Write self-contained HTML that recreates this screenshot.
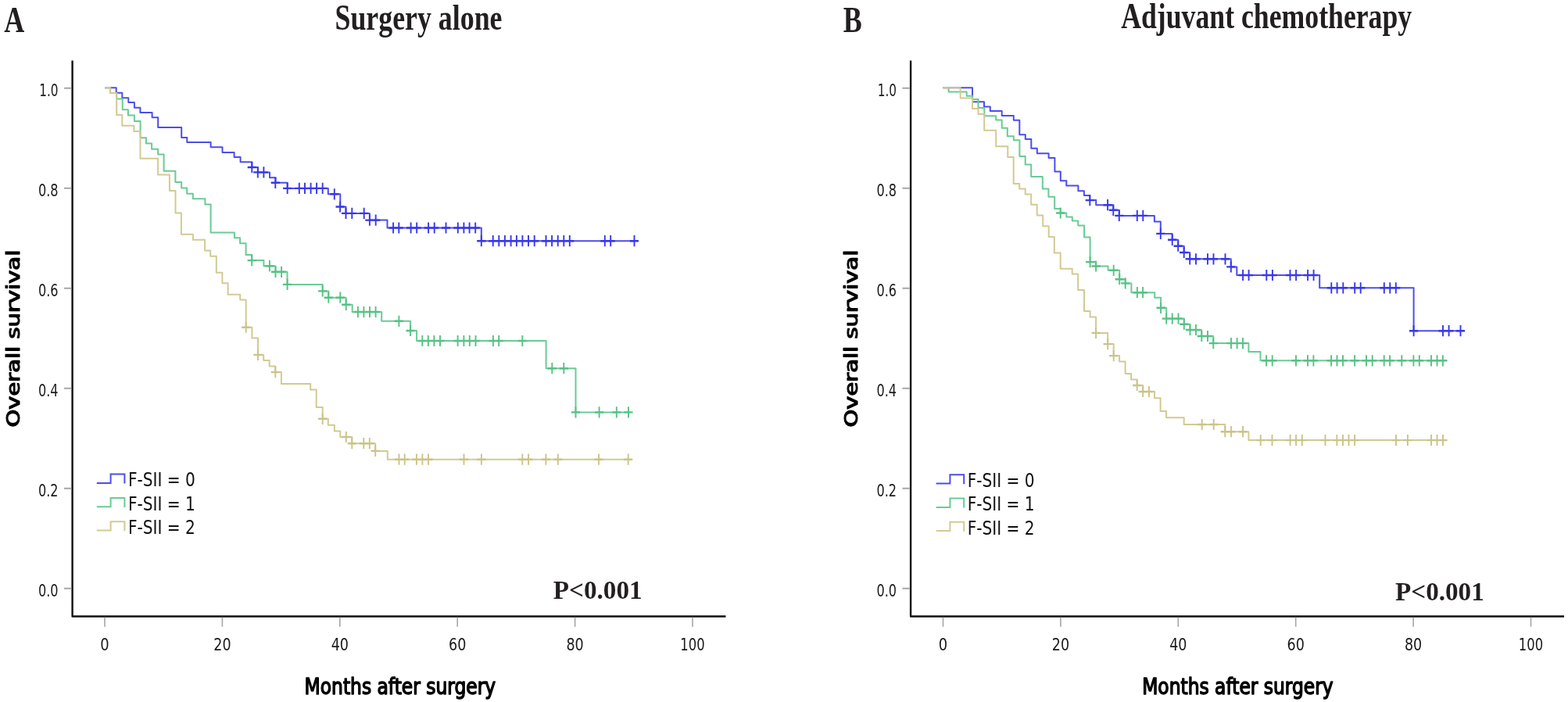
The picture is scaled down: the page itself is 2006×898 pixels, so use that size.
<!DOCTYPE html>
<html><head><meta charset="utf-8"><title>Kaplan-Meier curves</title><style>
html,body{margin:0;padding:0;background:#fff;}
body{width:2006px;height:898px;overflow:hidden;}
svg{display:block;}
.tk{font-family:'DejaVu Sans Condensed','DejaVu Sans','Liberation Sans',sans-serif;font-stretch:condensed;font-size:21px;fill:#1a1a1a;}
.tkx{font-size:20.8px;}
.lg{font-family:'DejaVu Sans Condensed','DejaVu Sans','Liberation Sans',sans-serif;font-stretch:condensed;font-size:24px;fill:#111;}
.ax{font-family:'DejaVu Sans Condensed','DejaVu Sans','Liberation Sans',sans-serif;font-stretch:condensed;font-weight:bold;font-size:30px;fill:#000;}
.ax2{font-family:'DejaVu Sans Condensed','DejaVu Sans','Liberation Sans',sans-serif;font-stretch:condensed;font-weight:normal;font-size:28.6px;fill:#000;stroke:#000;stroke-width:1.4px;stroke-linejoin:round;}
.tt{font-family:'Liberation Serif','DejaVu Serif',serif;font-weight:bold;font-size:47px;fill:#231f20;}
.pv{font-family:'Liberation Serif','DejaVu Serif',serif;font-weight:bold;font-size:34px;fill:#231f20;}
.lt{font-family:'Liberation Serif','DejaVu Serif',serif;font-weight:bold;font-size:46px;fill:#231f20;}
</style></head><body>
<svg width="2006" height="898" viewBox="0 0 2006 898">
<rect width="2006" height="898" fill="#fff"/>
<text x="5.2" y="40.6" class="lt" textLength="26" lengthAdjust="spacingAndGlyphs">A</text>
<text x="1078.8" y="40.6" class="lt" textLength="24" lengthAdjust="spacingAndGlyphs">B</text>
<path d="M92.6,77.5V788.5H928.5" fill="none" stroke="#111" stroke-width="2.4" stroke-linejoin="round"/>
<path d="M82,112.7H91.3M82,240.7H91.3M82,368.7H91.3M82,496.7H91.3M82,624.8H91.3M82,752.8H91.3" stroke="#a6a6a6" stroke-width="2.1" fill="none"/>
<path d="M134,789.8V801.8M284.4,789.8V801.8M434.8,789.8V801.8M585.2,789.8V801.8M735.6,789.8V801.8M886,789.8V801.8" stroke="#a6a6a6" stroke-width="1.6" fill="none"/>
<text x="74.5" y="122.5" class="tk" text-anchor="end" textLength="24.3" lengthAdjust="spacingAndGlyphs">1.0</text>
<text x="74.5" y="250.5" class="tk" text-anchor="end" textLength="25.6" lengthAdjust="spacingAndGlyphs">0.8</text>
<text x="74.5" y="378.5" class="tk" text-anchor="end" textLength="25.6" lengthAdjust="spacingAndGlyphs">0.6</text>
<text x="74.5" y="506.5" class="tk" text-anchor="end" textLength="25.6" lengthAdjust="spacingAndGlyphs">0.4</text>
<text x="74.5" y="634.6" class="tk" text-anchor="end" textLength="25.6" lengthAdjust="spacingAndGlyphs">0.2</text>
<text x="74.5" y="762.6" class="tk" text-anchor="end" textLength="25.6" lengthAdjust="spacingAndGlyphs">0.0</text>
<text x="134" y="831.6" class="tk tkx" text-anchor="middle" textLength="11.4" lengthAdjust="spacingAndGlyphs">0</text>
<text x="284.4" y="831.6" class="tk tkx" text-anchor="middle" textLength="22.3" lengthAdjust="spacingAndGlyphs">20</text>
<text x="434.8" y="831.6" class="tk tkx" text-anchor="middle" textLength="22.3" lengthAdjust="spacingAndGlyphs">40</text>
<text x="585.2" y="831.6" class="tk tkx" text-anchor="middle" textLength="22.3" lengthAdjust="spacingAndGlyphs">60</text>
<text x="735.6" y="831.6" class="tk tkx" text-anchor="middle" textLength="22.3" lengthAdjust="spacingAndGlyphs">80</text>
<text x="886" y="831.6" class="tk tkx" text-anchor="middle" textLength="31.3" lengthAdjust="spacingAndGlyphs">100</text>
<text x="389.6" y="887.6" class="ax2" textLength="244.5" lengthAdjust="spacingAndGlyphs">Months after surgery</text>
<text class="ax2" textLength="226.8" lengthAdjust="spacingAndGlyphs" transform="translate(25.3,546.6) rotate(-90) scale(1,0.78)">Overall survival</text>
<path d="M123.8,617.9H141.6V606.6H159.4V618.6" fill="none" stroke="#4d4dec" stroke-width="2"/>
<text x="163.9" y="622.4" class="lg" textLength="86" lengthAdjust="spacingAndGlyphs">F-SII = 0</text>
<path d="M123.8,648.3H141.6V637H159.4V649" fill="none" stroke="#6acb95" stroke-width="2"/>
<text x="163.9" y="652.8" class="lg" textLength="86" lengthAdjust="spacingAndGlyphs">F-SII = 1</text>
<path d="M123.8,678.5H141.6V667.2H159.4V679.2" fill="none" stroke="#d2ca93" stroke-width="2"/>
<text x="163.9" y="683" class="lg" textLength="86" lengthAdjust="spacingAndGlyphs">F-SII = 2</text>
<text x="428.5" y="38" class="tt" style="font-size:47px" textLength="214" lengthAdjust="spacingAndGlyphs">Surgery alone</text>
<text x="707.8" y="766.3" class="pv" textLength="113.8" lengthAdjust="spacingAndGlyphs">P&lt;0.001</text>
<path d="M1165.1,77.5V788.5H2001" fill="none" stroke="#111" stroke-width="2.4" stroke-linejoin="round"/>
<path d="M1154.5,112.7H1163.8M1154.5,240.7H1163.8M1154.5,368.7H1163.8M1154.5,496.7H1163.8M1154.5,624.8H1163.8M1154.5,752.8H1163.8" stroke="#a6a6a6" stroke-width="2.1" fill="none"/>
<path d="M1206.5,789.8V801.8M1356.9,789.8V801.8M1507.3,789.8V801.8M1657.7,789.8V801.8M1808.1,789.8V801.8M1958.5,789.8V801.8" stroke="#a6a6a6" stroke-width="1.6" fill="none"/>
<text x="1147" y="122.5" class="tk" text-anchor="end" textLength="24.3" lengthAdjust="spacingAndGlyphs">1.0</text>
<text x="1147" y="250.5" class="tk" text-anchor="end" textLength="25.6" lengthAdjust="spacingAndGlyphs">0.8</text>
<text x="1147" y="378.5" class="tk" text-anchor="end" textLength="25.6" lengthAdjust="spacingAndGlyphs">0.6</text>
<text x="1147" y="506.5" class="tk" text-anchor="end" textLength="25.6" lengthAdjust="spacingAndGlyphs">0.4</text>
<text x="1147" y="634.6" class="tk" text-anchor="end" textLength="25.6" lengthAdjust="spacingAndGlyphs">0.2</text>
<text x="1147" y="762.6" class="tk" text-anchor="end" textLength="25.6" lengthAdjust="spacingAndGlyphs">0.0</text>
<text x="1206.5" y="831.6" class="tk tkx" text-anchor="middle" textLength="11.4" lengthAdjust="spacingAndGlyphs">0</text>
<text x="1356.9" y="831.6" class="tk tkx" text-anchor="middle" textLength="22.3" lengthAdjust="spacingAndGlyphs">20</text>
<text x="1507.3" y="831.6" class="tk tkx" text-anchor="middle" textLength="22.3" lengthAdjust="spacingAndGlyphs">40</text>
<text x="1657.7" y="831.6" class="tk tkx" text-anchor="middle" textLength="22.3" lengthAdjust="spacingAndGlyphs">60</text>
<text x="1808.1" y="831.6" class="tk tkx" text-anchor="middle" textLength="22.3" lengthAdjust="spacingAndGlyphs">80</text>
<text x="1958.5" y="831.6" class="tk tkx" text-anchor="middle" textLength="31.3" lengthAdjust="spacingAndGlyphs">100</text>
<text x="1461.2" y="887.6" class="ax2" textLength="244.5" lengthAdjust="spacingAndGlyphs">Months after surgery</text>
<text class="ax2" textLength="226.8" lengthAdjust="spacingAndGlyphs" transform="translate(1097.4,546.6) rotate(-90) scale(1,0.78)">Overall survival</text>
<path d="M1197.6,618.5H1215.4V607.2H1233.2V619.2" fill="none" stroke="#4d4dec" stroke-width="2"/>
<text x="1237.7" y="623" class="lg" textLength="86" lengthAdjust="spacingAndGlyphs">F-SII = 0</text>
<path d="M1197.6,648.9H1215.4V637.6H1233.2V649.6" fill="none" stroke="#6acb95" stroke-width="2"/>
<text x="1237.7" y="653.4" class="lg" textLength="86" lengthAdjust="spacingAndGlyphs">F-SII = 1</text>
<path d="M1197.6,679.1H1215.4V667.8H1233.2V679.8" fill="none" stroke="#d2ca93" stroke-width="2"/>
<text x="1237.7" y="683.6" class="lg" textLength="86" lengthAdjust="spacingAndGlyphs">F-SII = 2</text>
<text x="1434.2" y="36.4" class="tt" style="font-size:45.5px" textLength="372" lengthAdjust="spacingAndGlyphs">Adjuvant chemotherapy</text>
<text x="1785" y="768" class="pv" textLength="113.8" lengthAdjust="spacingAndGlyphs">P&lt;0.001</text>
<g fill="none" stroke-width="2.0" stroke-linejoin="round" stroke-linecap="butt">
<path stroke="#4d4dec" d="M134,112.2H148.7V118.8H156.3V125.3H164.3V131.0H171.9V137.8H179.4V144.0H194.6V150.3H202.2V162.9H232.2V175.9H239.3V182.0H269.6V188.3H284.5V194.9H299.6V201.0H307.6V207.3H322.3V214.0H329.9V220.4H345.0V227.2H352.6V233.8H367.7V240.9H419.8V248.3H435.3V264.5H442.5V272.9H472.9V281.6H495.5V291.5H615.8V308.2H811.5"/>
<path stroke="#6acb95" d="M134,112.2H141.1V119.1H149.2V126.4H156.7V140.2H163.9V147.6H171.9V154.9H179.6V176.2H186.9V183.6H194.1V190.7H202.1V197.4H209.6V218.8H224.4V232.9H232.2V240.5H239.2V247.8H246.8V254.3H262.4V261.4H269.6V297.5H299.9V304.2H307.1V311.3H314.6V326.0H322.2V333.1H337.4V340.2H352.5V347.8H367.5V363.9H412.7V372.4H420.3V380.7H442.7V389.8H450.7V399.0H488.2V410.8H525.1V423.0H533.1V436.0H698.6V471.2H736.5V527.4H804.0"/>
<path stroke="#d2ca93" d="M134,112.2H141.1V119.1H149.2V146.9H156.3V160.7H171.4V167.9H179.5V202.8H202.1V223.6H216.9V244.1H224.5V272.6H231.9V299.7H246.9V306.8H262.1V320.6H269.2V327.8H276.8V348.7H284.4V362.3H291.6V376.8H307.2V383.5H314.7V418.7H322.4V432.5H330.0V453.9H337.2V461.0H344.7V468.6H352.3V476.1H359.9V490.9H397.2V498.6H404.7V521.1H412.7V535.8H419.8V543.8H427.9V551.4H435.3V559.0H450.3V567.2H480.2V576.9H495.8V587.7H803.7"/>
<path stroke="#4d4dec" d="M1206.5,112.2H1244.0V130.3H1259.0V136.5H1266.8V142.0H1281.7V148.0H1296.8V153.8H1304.3V172.2H1311.8V178.0H1319.3V189.7H1326.8V196.2H1341.6V202.0H1349.4V219.6H1356.8V231.3H1364.3V237.6H1379.4V244.3H1386.9V250.0H1394.3V256.1H1402.2V262.2H1424.3V268.8H1431.8V275.9H1476.9V283.4H1484.8V298.9H1499.7V306.8H1507.2V314.7H1514.7V323.0H1522.2V331.3H1574.8V341.4H1582.3V352.0H1688.2V368.3H1808.6V423.2H1868.5"/>
<path stroke="#6acb95" d="M1206.5,112.2H1213.6V117.5H1236.7V122.8H1244.3V127.0H1251.5V138.1H1259.3V148.3H1274.2V153.6H1281.7V163.8H1288.8V174.2H1296.8V179.3H1304.4V200.0H1311.7V210.5H1319.2V225.9H1333.8V241.4H1341.4V251.8H1349.2V267.1H1356.7V272.5H1364.3V277.4H1371.8V282.6H1379.3V288.4H1387.1V303.4H1394.6V335.1H1402.1V340.5H1417.6V345.8H1432.2V357.2H1439.7V362.4H1447.4V374.2H1477.2V380.7H1485.1V393.8H1492.2V407.6H1514.8V414.7H1522.5V422.0H1537.2V430.0H1552.3V439.1H1597.4V449.9H1612.5V461.3H1845.9"/>
<path stroke="#d2ca93" d="M1206.5,112.2H1228.7V125.6H1244.0V139.0H1251.5V146.0H1259.2V166.7H1274.2V187.2H1289.3V201.0H1296.7V235.1H1304.2V241.4H1311.7V248.5H1319.2V261.7H1326.7V275.5H1334.2V289.2H1341.7V303.0H1348.8V323.4H1356.7V343.8H1371.7V350.5H1379.2V370.9H1387.0V397.9H1394.6V405.5H1402.1V425.9H1417.2V440.1H1424.7V455.1H1432.1V462.4H1439.6V478.0H1447.1V485.5H1454.7V493.0H1462.2V501.0H1477.1V509.2H1484.6V525.9H1492.1V534.3H1514.7V543.0H1567.3V552.2H1597.4V563.1H1846.0"/>
</g>
<g fill="none">
<path stroke="#3838e8" stroke-width="2.4" d="M316.7,214h11.2M324.2,220.4h11.2M331.8,220.4h11.2M346.7,233.8h11.2M362.1,240.9h11.2M377.2,240.9h11.2M384.4,240.9h11.2M392,240.9h11.2M399.5,240.9h11.2M407.1,240.9h11.2M422.2,248.3h11.2M429.5,264.5h11.2M436.9,272.9h11.2M444.7,272.9h11.2M460.1,272.9h11.2M467.3,281.6h11.2M475.1,281.6h11.2M497.5,291.5h11.2M504.7,291.5h11.2M520,291.5h11.2M527.6,291.5h11.2M542.5,291.5h11.2M550.1,291.5h11.2M564.9,291.5h11.2M580.2,291.5h11.2M587.8,291.5h11.2M595,291.5h11.2M602.6,291.5h11.2M610.2,308.2h11.2M625.1,308.2h11.2M632.7,308.2h11.2M640.3,308.2h11.2M648,308.2h11.2M655.3,308.2h11.2M662.8,308.2h11.2M670.4,308.2h11.2M678.1,308.2h11.2M692.9,308.2h11.2M700.5,308.2h11.2M708.1,308.2h11.2M715.7,308.2h11.2M723.2,308.2h11.2M768.2,308.2h11.2M775.6,308.2h11.2M805.9,308.2h11.2"/>
<path stroke="#3838e8" stroke-width="1.9" d="M322.3,206.9v14.2M329.8,213.3v14.2M337.4,213.3v14.2M352.3,226.7v14.2M367.7,233.8v14.2M382.8,233.8v14.2M390,233.8v14.2M397.6,233.8v14.2M405.1,233.8v14.2M412.7,233.8v14.2M427.8,241.2v14.2M435.1,257.4v14.2M442.5,265.8v14.2M450.3,265.8v14.2M465.7,265.8v14.2M472.9,274.5v14.2M480.7,274.5v14.2M503.1,284.4v14.2M510.3,284.4v14.2M525.6,284.4v14.2M533.2,284.4v14.2M548.1,284.4v14.2M555.7,284.4v14.2M570.5,284.4v14.2M585.8,284.4v14.2M593.4,284.4v14.2M600.6,284.4v14.2M608.2,284.4v14.2M615.8,301.1v14.2M630.7,301.1v14.2M638.3,301.1v14.2M645.9,301.1v14.2M653.6,301.1v14.2M660.9,301.1v14.2M668.4,301.1v14.2M676,301.1v14.2M683.7,301.1v14.2M698.5,301.1v14.2M706.1,301.1v14.2M713.7,301.1v14.2M721.3,301.1v14.2M728.8,301.1v14.2M773.8,301.1v14.2M781.2,301.1v14.2M811.5,301.1v14.2"/>
<path stroke="#56c283" stroke-width="2.4" d="M316.6,333.1h11.2M339.3,340.2h11.2M346.9,347.8h11.2M354.5,347.8h11.2M362,363.9h11.2M407.1,372.4h11.2M414.7,380.7h11.2M429.7,380.7h11.2M437.1,389.8h11.2M452.3,399h11.2M459.8,399h11.2M467.4,399h11.2M475,399h11.2M504.8,410.8h11.2M519.5,423h11.2M534.7,436h11.2M542.2,436h11.2M549.8,436h11.2M557.4,436h11.2M580,436h11.2M587.8,436h11.2M595.2,436h11.2M602.9,436h11.2M625.3,436h11.2M632.6,436h11.2M662.7,436h11.2M700.7,471.2h11.2M715.7,471.2h11.2M730.9,527.4h11.2M761,527.4h11.2M783.2,527.4h11.2M798.4,527.4h11.2"/>
<path stroke="#56c283" stroke-width="1.9" d="M322.2,326v14.2M344.9,333.1v14.2M352.5,340.7v14.2M360.1,340.7v14.2M367.6,356.8v14.2M412.7,365.3v14.2M420.3,373.6v14.2M435.3,373.6v14.2M442.7,382.7v14.2M457.9,391.9v14.2M465.4,391.9v14.2M473,391.9v14.2M480.6,391.9v14.2M510.4,403.7v14.2M525.1,415.9v14.2M540.3,428.9v14.2M547.8,428.9v14.2M555.4,428.9v14.2M563,428.9v14.2M585.6,428.9v14.2M593.4,428.9v14.2M600.8,428.9v14.2M608.5,428.9v14.2M630.9,428.9v14.2M638.2,428.9v14.2M668.3,428.9v14.2M706.3,464.1v14.2M721.3,464.1v14.2M736.5,520.3v14.2M766.6,520.3v14.2M788.8,520.3v14.2M804,520.3v14.2"/>
<path stroke="#cbc388" stroke-width="2.4" d="M309.1,418.7h11.2M324.4,453.9h11.2M346.7,476.1h11.2M407.1,535.8h11.2M437.2,559h11.2M444.7,567.2h11.2M459.7,567.2h11.2M467.2,567.2h11.2M474.6,576.9h11.2M504.9,587.7h11.2M512.1,587.7h11.2M527.3,587.7h11.2M534.8,587.7h11.2M542.4,587.7h11.2M587.9,587.7h11.2M610.3,587.7h11.2M662.7,587.7h11.2M670.5,587.7h11.2M692.8,587.7h11.2M708.2,587.7h11.2M760.4,587.7h11.2M798.1,587.7h11.2"/>
<path stroke="#cbc388" stroke-width="1.9" d="M314.7,411.6v14.2M330,446.8v14.2M352.3,469v14.2M412.7,528.7v14.2M442.8,551.9v14.2M450.3,560.1v14.2M465.3,560.1v14.2M472.8,560.1v14.2M480.2,569.8v14.2M510.5,580.6v14.2M517.7,580.6v14.2M532.9,580.6v14.2M540.4,580.6v14.2M548,580.6v14.2M593.5,580.6v14.2M615.9,580.6v14.2M668.3,580.6v14.2M676.1,580.6v14.2M698.4,580.6v14.2M713.8,580.6v14.2M766,580.6v14.2M803.7,580.6v14.2"/>
<path stroke="#3838e8" stroke-width="2.4" d="M1388.7,256.1h11.2M1411.5,262.2h11.2M1418.7,268.8h11.2M1426.2,275.9h11.2M1449.2,275.9h11.2M1456.7,275.9h11.2M1479.2,298.9h11.2M1494.1,306.8h11.2M1501.6,314.7h11.2M1509.1,323h11.2M1516.6,331.3h11.2M1524.4,331.3h11.2M1539.4,331.3h11.2M1546.9,331.3h11.2M1561.9,331.3h11.2M1569.2,341.4h11.2M1584.5,352h11.2M1592,352h11.2M1614.7,352h11.2M1622.3,352h11.2M1644.9,352h11.2M1652.5,352h11.2M1667.5,352h11.2M1675,352h11.2M1697.7,368.3h11.2M1705,368.3h11.2M1712.7,368.3h11.2M1727.6,368.3h11.2M1735.1,368.3h11.2M1765.2,368.3h11.2M1772.7,368.3h11.2M1780.2,368.3h11.2M1803,423.2h11.2M1840.4,423.2h11.2M1848,423.2h11.2M1862.9,423.2h11.2"/>
<path stroke="#3838e8" stroke-width="1.9" d="M1394.3,249v14.2M1417.1,255.1v14.2M1424.3,261.7v14.2M1431.8,268.8v14.2M1454.8,268.8v14.2M1462.3,268.8v14.2M1484.8,291.8v14.2M1499.7,299.7v14.2M1507.2,307.6v14.2M1514.7,315.9v14.2M1522.2,324.2v14.2M1530,324.2v14.2M1545,324.2v14.2M1552.5,324.2v14.2M1567.5,324.2v14.2M1574.8,334.3v14.2M1590.1,344.9v14.2M1597.6,344.9v14.2M1620.3,344.9v14.2M1627.9,344.9v14.2M1650.5,344.9v14.2M1658.1,344.9v14.2M1673.1,344.9v14.2M1680.6,344.9v14.2M1703.3,361.2v14.2M1710.6,361.2v14.2M1718.3,361.2v14.2M1733.2,361.2v14.2M1740.7,361.2v14.2M1770.8,361.2v14.2M1778.3,361.2v14.2M1785.8,361.2v14.2M1808.6,416.1v14.2M1846,416.1v14.2M1853.6,416.1v14.2M1868.5,416.1v14.2"/>
<path stroke="#56c283" stroke-width="2.4" d="M1351.1,272.5h11.2M1389,335.1h11.2M1396.5,340.5h11.2M1419.1,345.8h11.2M1426.6,357.2h11.2M1434.1,362.4h11.2M1449.3,374.2h11.2M1456.5,374.2h11.2M1479.5,393.8h11.2M1486.6,407.6h11.2M1494.1,407.6h11.2M1501.9,407.6h11.2M1509.2,414.7h11.2M1516.9,422h11.2M1524.4,422h11.2M1531.7,430h11.2M1539.4,430h11.2M1546.7,439.1h11.2M1569.4,439.1h11.2M1577,439.1h11.2M1584.4,439.1h11.2M1614.5,461.3h11.2M1622.1,461.3h11.2M1652.4,461.3h11.2M1667.4,461.3h11.2M1674.8,461.3h11.2M1697.5,461.3h11.2M1704.9,461.3h11.2M1712.4,461.3h11.2M1727.5,461.3h11.2M1742.4,461.3h11.2M1750.1,461.3h11.2M1765.1,461.3h11.2M1772.5,461.3h11.2M1787.7,461.3h11.2M1802.8,461.3h11.2M1810.2,461.3h11.2M1825.4,461.3h11.2M1832.9,461.3h11.2M1840.3,461.3h11.2"/>
<path stroke="#56c283" stroke-width="1.9" d="M1356.7,265.4v14.2M1394.6,328v14.2M1402.1,333.4v14.2M1424.7,338.7v14.2M1432.2,350.1v14.2M1439.7,355.3v14.2M1454.9,367.1v14.2M1462.1,367.1v14.2M1485.1,386.7v14.2M1492.2,400.5v14.2M1499.7,400.5v14.2M1507.5,400.5v14.2M1514.8,407.6v14.2M1522.5,414.9v14.2M1530,414.9v14.2M1537.3,422.9v14.2M1545,422.9v14.2M1552.3,432v14.2M1575,432v14.2M1582.6,432v14.2M1590,432v14.2M1620.1,454.2v14.2M1627.7,454.2v14.2M1658,454.2v14.2M1673,454.2v14.2M1680.4,454.2v14.2M1703.1,454.2v14.2M1710.5,454.2v14.2M1718,454.2v14.2M1733.1,454.2v14.2M1748,454.2v14.2M1755.7,454.2v14.2M1770.7,454.2v14.2M1778.1,454.2v14.2M1793.3,454.2v14.2M1808.4,454.2v14.2M1815.8,454.2v14.2M1831,454.2v14.2M1838.5,454.2v14.2M1845.9,454.2v14.2"/>
<path stroke="#cbc388" stroke-width="2.4" d="M1396.5,425.9h11.2M1411.6,440.1h11.2M1419.1,455.1h11.2M1449.1,493h11.2M1456.6,501h11.2M1464.3,501h11.2M1532.1,543h11.2M1547.1,543h11.2M1561.7,552.2h11.2M1569.5,552.2h11.2M1584.5,552.2h11.2M1607.1,563.1h11.2M1621.9,563.1h11.2M1645,563.1h11.2M1652.5,563.1h11.2M1660.2,563.1h11.2M1689.9,563.1h11.2M1704.8,563.1h11.2M1712.4,563.1h11.2M1719.9,563.1h11.2M1727.5,563.1h11.2M1780.4,563.1h11.2M1795.3,563.1h11.2M1825.4,563.1h11.2M1832.9,563.1h11.2M1840.4,563.1h11.2"/>
<path stroke="#cbc388" stroke-width="1.9" d="M1402.1,418.8v14.2M1417.2,433v14.2M1424.7,448v14.2M1454.7,485.9v14.2M1462.2,493.9v14.2M1469.9,493.9v14.2M1537.7,535.9v14.2M1552.7,535.9v14.2M1567.3,545.1v14.2M1575.1,545.1v14.2M1590.1,545.1v14.2M1612.7,556v14.2M1627.5,556v14.2M1650.6,556v14.2M1658.1,556v14.2M1665.8,556v14.2M1695.5,556v14.2M1710.4,556v14.2M1718,556v14.2M1725.5,556v14.2M1733.1,556v14.2M1786,556v14.2M1800.9,556v14.2M1831,556v14.2M1838.5,556v14.2M1846,556v14.2"/>
</g>
</svg>
</body></html>
